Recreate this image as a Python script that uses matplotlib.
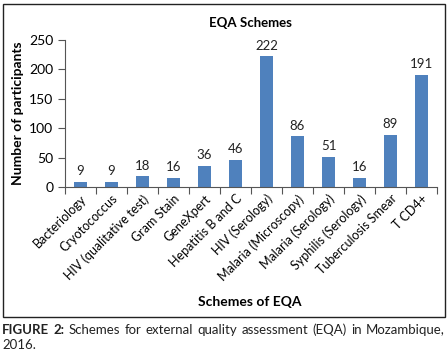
import matplotlib
matplotlib.use("Agg")
from matplotlib import pyplot as plt
from matplotlib.patches import Rectangle

schemes = ['Bacteriology', 'Cryotococcus', 'HIV (qualitative test)', 'Gram Stain',
           'GeneXpert', 'Hepatitis B and C', 'HIV (Serology)', 'Malaria (Microscopy)',
           'Malaria (Serology)', 'Syphilis (Serology)', 'Tuberculosis Smear', 'T CD4+']
participants = [9, 9, 18, 16, 36, 46, 222, 86, 51, 16, 89, 191]
yticks = [0, 50, 100, 150, 200, 250]
caption_words = ['FIGURE', '2:', 'Schemes', 'for', 'external', 'quality', 'assessment',
                 '(EQA)', 'in', 'Mozambique,']

plt.rcParams['font.family'] = ['Lato', 'DejaVu Sans']

W, H = 448, 354
fig = plt.figure(figsize=(W / 100, H / 100), dpi=100)

# outer frame around the chart
fig.patches.append(Rectangle((3 / W, 1 - 317 / H), 442 / W, 313 / H,
                             transform=fig.transFigure, fill=False,
                             edgecolor='#222222', linewidth=1.0))

ax = fig.add_axes([65 / W, 1 - 187 / H, 372 / W, 147 / H])
x = list(range(len(schemes)))
ax.bar(x, participants, width=0.45, color='#4F81BD')
for xi, v in zip(x, participants):
    ax.text(xi, v + 8, str(v), ha='center', va='bottom', fontsize=9.5, color='#222222')

ax.set_xlim(-0.5, len(schemes) - 0.5)
ax.set_ylim(0, 250)
ax.set_yticks(yticks)
ax.set_xticks([i - 0.5 for i in range(len(schemes) + 1)], minor=False)
ax.set_xticklabels([])
ax.set_xticks(x, minor=True)
ax.set_xticklabels(schemes, minor=True, rotation=45, ha='right', rotation_mode='anchor',
                   fontsize=9)
ax.tick_params(axis='x', which='minor', length=0, pad=4)
ax.tick_params(axis='x', which='major', length=5, direction='out', color='#555555')
ax.tick_params(axis='y', length=5, direction='out', labelsize=10, color='#555555')
for s in ['top', 'right']:
    ax.spines[s].set_visible(False)
for s in ['left', 'bottom']:
    ax.spines[s].set_color('#555555')

fig.text(250 / W, 1 - 23 / H, 'EQA Schemes', ha='center', va='center',
         fontsize=9.5, fontweight='bold')
fig.text(18 / W, 1 - 113 / H, 'Number of participants', ha='center', va='center',
         rotation=90, fontsize=10, fontweight='bold')
fig.text(250 / W, 1 - 302 / H, 'Schemes of EQA', ha='center', va='center',
         fontsize=10, fontweight='bold')

# justified caption line
renderer = fig.canvas.get_renderer()
texts = []
for i, w in enumerate(caption_words):
    t = fig.text(0, 1 - 330 / H, w, ha='left', va='center', fontsize=9.5,
                 fontweight='bold' if i < 2 else 'normal', color='#222222')
    texts.append(t)
widths = [t.get_window_extent(renderer).width for t in texts]
left, right = 2, 445
gap = (right - left - sum(widths)) / (len(texts) - 1)
pos = left
for t, wd in zip(texts, widths):
    t.set_x(pos / W)
    pos += wd + gap
fig.text(2 / W, 1 - 345 / H, '2016.', ha='left', va='center', fontsize=9.5,
         color='#222222')

plt.savefig('out.png', dpi=100)
